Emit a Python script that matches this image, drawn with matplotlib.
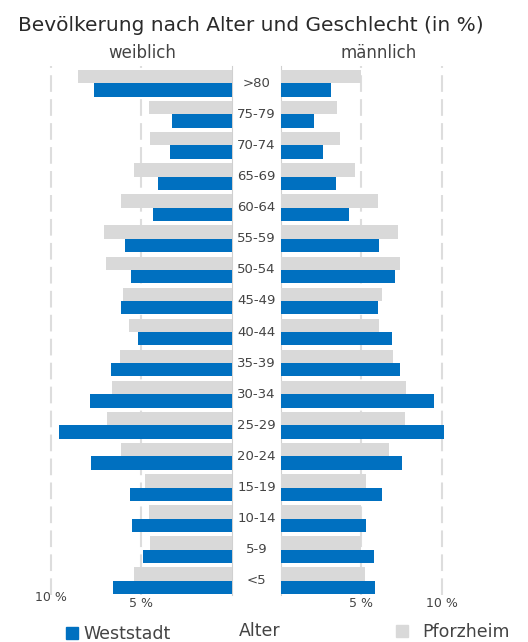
import matplotlib.pyplot as plt
import matplotlib.transforms as mtransforms
from matplotlib.patches import Patch

ages = [">80", "75-79", "70-74", "65-69", "60-64", "55-59", "50-54", "45-49",
        "40-44", "35-39", "30-34", "25-29", "20-24", "15-19", "10-14", "5-9", "<5"]
weststadt_w = [7.6, 3.3, 3.4, 4.1, 4.35, 5.9, 5.55, 6.1, 5.2, 6.65, 7.85, 9.55, 7.8, 5.6, 5.5, 4.9, 6.55]
pforzheim_w = [8.5, 4.6, 4.5, 5.4, 6.1, 7.05, 6.95, 6.0, 5.7, 6.2, 6.6, 6.9, 6.1, 4.8, 4.6, 4.5, 5.4]
weststadt_m = [3.1, 2.05, 2.6, 3.4, 4.25, 6.1, 7.1, 6.05, 6.9, 7.4, 9.5, 10.15, 7.5, 6.25, 5.3, 5.8, 5.85]
pforzheim_m = [5.0, 3.5, 3.65, 4.6, 6.0, 7.3, 7.4, 6.3, 6.1, 6.95, 7.8, 7.7, 6.7, 5.3, 5.0, 5.0, 5.2]
grid_ticks = [5, 10]
grid_labels = ["5 %", "10 %"]

blue = "#0070c0"
grey = "#d9d9d9"
txt = "#444444"

fig = plt.figure(figsize=(5.28, 6.42), dpi=100)
axL = fig.add_axes([23.5 / 528, 1 - 595 / 642, 208.5 / 528, 529 / 642])
axR = fig.add_axes([281.3 / 528, 1 - 595 / 642, 216.5 / 528, 529 / 642])

n = len(ages)
pos = [n - 1 - i for i in range(n)]
h = 0.428

for ax, west, pf in [(axL, weststadt_w, pforzheim_w), (axR, weststadt_m, pforzheim_m)]:
    ax.barh([p + h / 2 for p in pos], pf, height=h, color=grey, zorder=3)
    ax.barh([p - h / 2 for p in pos], west, height=h, color=blue, zorder=3)
    for t in grid_ticks:
        ax.axvline(t, color="#dddddd", lw=1.5, linestyle=(0, (8, 3.5)), zorder=1)
    ax.set_ylim(-0.457, n - 1 + 0.556)
    ax.set_yticks([])
    ax.set_xticks([])
    for s in ax.spines.values():
        s.set_visible(False)
    ax.patch.set_alpha(0)

axL.set_xlim(11.5, 0)
axR.set_xlim(0, 13.5)
axL.spines["right"].set_visible(True)
axL.spines["right"].set_color("#d0d0d0")
axR.spines["left"].set_visible(True)
axR.spines["left"].set_color("#d0d0d0")

# tick labels below the grid lines
for t, lab in zip(grid_ticks, grid_labels):
    yl = -0.004 if t == 10 else -0.017
    axL.text(t, yl, lab, transform=axL.get_xaxis_transform(), ha="center", va="center",
             fontsize=9, color=txt)
    axR.text(t, -0.017, lab, transform=axR.get_xaxis_transform(), ha="center", va="center",
             fontsize=9, color=txt)

# age labels in the middle
trans = mtransforms.blended_transform_factory(fig.transFigure, axL.transData)
for p, a in zip(pos, ages):
    fig.text(256.5 / 528, p, a, transform=trans, ha="center", va="center",
             fontsize=9.5, color=txt)

fig.text(18 / 528, 1 - 31 / 642, "Bevölkerung nach Alter und Geschlecht (in %)",
         ha="left", va="baseline", fontsize=14.5, color="#2a2a2a")
fig.text(142 / 528, 1 - 58 / 642, "weiblich", ha="center", va="baseline", fontsize=12, color=txt)
fig.text(379 / 528, 1 - 58 / 642, "männlich", ha="center", va="baseline", fontsize=12, color=txt)
fig.text(260 / 528, 1 - 636 / 642, "Alter", ha="center", va="baseline", fontsize=12.5, color=txt)

fig.legend(handles=[Patch(color=blue)], labels=["Weststadt"], loc="center left",
           bbox_to_anchor=(50 / 528, 1 - 634 / 642), frameon=False, fontsize=12.5,
           handlelength=0.7, handleheight=0.7, handletextpad=0.3, labelcolor=txt)
fig.legend(handles=[Patch(color=grey)], labels=["Pforzheim"], loc="center left",
           bbox_to_anchor=(380 / 528, 1 - 632 / 642), frameon=False, fontsize=12.5,
           handlelength=0.7, handleheight=0.7, handletextpad=0.85, labelcolor=txt)

fig.savefig("out.png", dpi=100)
